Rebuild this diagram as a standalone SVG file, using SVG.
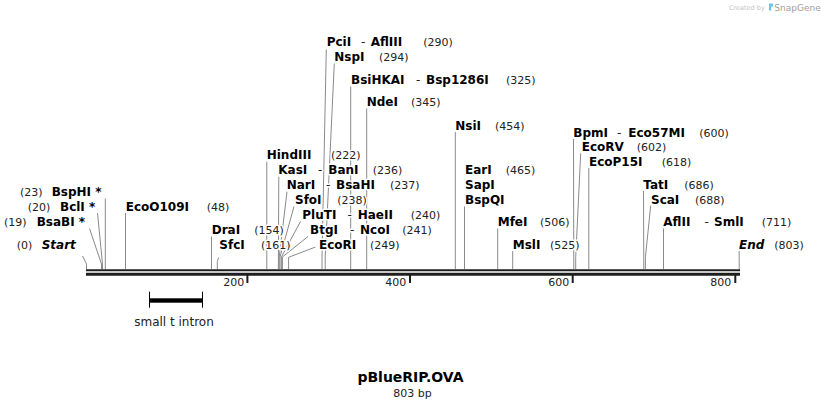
<svg xmlns="http://www.w3.org/2000/svg" width="826" height="408" viewBox="0 0 826 408">
<style>
text{font-family:"DejaVu Sans",Verdana,sans-serif;stroke:#fff;stroke-width:3;stroke-linejoin:round;paint-order:stroke}
.n{font-size:12px;font-weight:bold;fill:#000}
.i{font-size:12px;font-weight:bold;font-style:italic;fill:#000}
.p{font-size:11px;fill:#222}
.d{font-size:12px;fill:#222}
.t{font-size:11px;fill:#222;stroke:none}
.c{stroke:#8a8a8a;stroke-width:1;fill:none}
.bb{stroke:#1e1e1e;fill:none}
</style>
<rect width="826" height="408" fill="#fff"/>
<g id="credit">
<text x="729" y="9.5" style="font-size:6.5px;fill:#c4c4c4;stroke:none">Created by</text>
<path d="M769 3.5 L773 3.5 L773 6.5 L771.2 6.5 L771.2 10.5 L769 10.5 Z" fill="#6cc3ee"/>
<text x="774.3" y="10.5" style="font-size:9px;fill:#a0a0a0;stroke:none">SnapGene</text>
</g>
<g id="backbone">
<line class="bb" x1="86" y1="270.3" x2="740" y2="270.3" stroke-width="2"/>
<line class="bb" x1="86" y1="274.2" x2="740" y2="274.2" stroke-width="3"/>
<rect x="246.4" y="275" width="2" height="8" fill="#1e1e1e"/>
<rect x="409" y="275" width="2" height="8" fill="#1e1e1e"/>
<rect x="571.7" y="275" width="2" height="8" fill="#1e1e1e"/>
<rect x="734.3" y="275" width="2" height="8" fill="#1e1e1e"/>
<text class="t" x="244.3" y="286.3" text-anchor="end">200</text>
<text class="t" x="406.3" y="286.3" text-anchor="end">400</text>
<text class="t" x="569.3" y="286.3" text-anchor="end">600</text>
<text class="t" x="731.3" y="286.3" text-anchor="end">800</text>
</g>
<g id="connectors">
<polyline class="c" points="82.5,256 86.5,264 86.5,269"/>
<polyline class="c" points="89.5,228.5 101.5,264 101.5,269"/>
<polyline class="c" points="97.5,213 102.5,264 102.5,269"/>
<polyline class="c" points="105.3,198.5 105.3,269"/>
<polyline class="c" points="125.5,213 125.5,269"/>
<polyline class="c" points="211.5,236.5 211.5,269"/>
<polyline class="c" points="218.7,257.5 217.3,261.5 217.3,269"/>
<polyline class="c" points="266.8,161.7 266.8,269"/>
<polyline class="c" points="278.8,176.7 278.4,257 278.4,269"/>
<polyline class="c" points="287,191.7 279.2,257 279.2,269"/>
<polyline class="c" points="294,206.5 280,257 280,269"/>
<polyline class="c" points="300.5,221.5 281.4,257 281.4,269"/>
<polyline class="c" points="308,236.5 282.4,257 282.4,269"/>
<polyline class="c" points="315.5,247 288.6,257.3 288.6,269"/>
<polyline class="c" points="326.3,49.5 322,257 322,269"/>
<polyline class="c" points="334.3,63.5 325.2,257 325.2,269"/>
<polyline class="c" points="350.7,86.5 350.7,269"/>
<polyline class="c" points="366.7,108.5 366.7,269"/>
<polyline class="c" points="455.3,132 455.3,269"/>
<polyline class="c" points="464.5,206.5 464.5,269"/>
<polyline class="c" points="497.7,228.5 497.7,269"/>
<polyline class="c" points="512.7,251 512.7,269"/>
<polyline class="c" points="573.5,139 573.8,269"/>
<polyline class="c" points="580.7,153.3 575.7,257.5 575.7,269"/>
<polyline class="c" points="588.8,168 588.8,269"/>
<polyline class="c" points="643.5,191 643.8,269"/>
<polyline class="c" points="650.7,205.5 645.4,257.5 645.4,269"/>
<polyline class="c" points="663.5,228.5 663.5,269"/>
<polyline class="c" points="739.2,251 739.2,269"/>
</g>
<g id="Start"><text class="p" x="16.7" y="248.5">(0)</text><text class="i" x="41.7" y="248.5">Start</text></g>
<g id="BsaBI"><text class="p" x="4" y="226">(19)</text><text class="n" x="36.7" y="226">BsaBI *</text></g>
<g id="BclI"><text class="p" x="27.7" y="210.5">(20)</text><text class="n" x="60" y="210.5">BclI *</text></g>
<g id="BspHI"><text class="p" x="20" y="196">(23)</text><text class="n" x="51.7" y="196">BspHI *</text></g>
<g id="EcoO109I"><text class="n" x="125.7" y="210.5">EcoO109I</text><text class="p" x="206.7" y="210.5">(48)</text></g>
<g id="DraI"><text class="n" x="211.7" y="234">DraI</text><text class="p" x="254.3" y="234">(154)</text></g>
<g id="SfcI"><text class="n" x="219.3" y="249">SfcI</text><text class="p" x="261" y="249">(161)</text></g>
<g id="HindIII"><text class="n" x="266.7" y="159">HindIII</text><text class="p" x="331" y="159">(222)</text></g>
<g id="KasI"><text class="n" x="278.3" y="174">KasI</text><text class="d" x="318" y="174">-</text><text class="n" x="328.3" y="174">BanI</text><text class="p" x="372.7" y="174">(236)</text></g>
<g id="NarI"><text class="n" x="286.7" y="189">NarI</text><text class="d" x="326" y="189">-</text><text class="n" x="336" y="189">BsaHI</text><text class="p" x="390" y="189">(237)</text></g>
<g id="SfoI"><text class="n" x="295" y="204">SfoI</text><text class="p" x="337.3" y="204">(238)</text></g>
<g id="PluTI"><text class="n" x="302.3" y="219">PluTI</text><text class="d" x="347.5" y="219">-</text><text class="n" x="357.7" y="219">HaeII</text><text class="p" x="410.7" y="219">(240)</text></g>
<g id="BtgI"><text class="n" x="310" y="234">BtgI</text><text class="d" x="350" y="234">-</text><text class="n" x="360" y="234">NcoI</text><text class="p" x="402.3" y="234">(241)</text></g>
<g id="EcoRI"><text class="n" x="319" y="249">EcoRI</text><text class="p" x="370" y="249">(249)</text></g>
<g id="PciI"><text class="n" x="326.7" y="46">PciI</text><text class="d" x="361" y="46">-</text><text class="n" x="370.7" y="46">AflIII</text><text class="p" x="423.3" y="46">(290)</text></g>
<g id="NspI"><text class="n" x="334.3" y="61">NspI</text><text class="p" x="379" y="61">(294)</text></g>
<g id="BsiHKAI"><text class="n" x="351" y="84">BsiHKAI</text><text class="d" x="416" y="84">-</text><text class="n" x="426" y="84">Bsp1286I</text><text class="p" x="506" y="84">(325)</text></g>
<g id="NdeI"><text class="n" x="366.7" y="106">NdeI</text><text class="p" x="411" y="106">(345)</text></g>
<g id="NsiI"><text class="n" x="455.3" y="130">NsiI</text><text class="p" x="495" y="130">(454)</text></g>
<g id="EarI"><text class="n" x="465" y="174">EarI</text><text class="p" x="505.7" y="174">(465)</text><text class="n" x="465" y="189">SapI</text><text class="n" x="465" y="204">BspQI</text></g>
<g id="MfeI"><text class="n" x="497.7" y="226">MfeI</text><text class="p" x="540" y="226">(506)</text></g>
<g id="MslI"><text class="n" x="512.7" y="249">MslI</text><text class="p" x="550" y="249">(525)</text></g>
<g id="BpmI"><text class="n" x="573.3" y="136.5">BpmI</text><text class="d" x="617" y="136.5">-</text><text class="n" x="628.3" y="136.5">Eco57MI</text><text class="p" x="699.3" y="136.5">(600)</text></g>
<g id="EcoRV"><text class="n" x="581.7" y="151">EcoRV</text><text class="p" x="636.7" y="151">(602)</text></g>
<g id="EcoP15I"><text class="n" x="589" y="166">EcoP15I</text><text class="p" x="661.7" y="166">(618)</text></g>
<g id="TatI"><text class="n" x="643.3" y="189">TatI</text><text class="p" x="684.3" y="189">(686)</text></g>
<g id="ScaI"><text class="n" x="651" y="204">ScaI</text><text class="p" x="695" y="204">(688)</text></g>
<g id="AflII"><text class="n" x="663.3" y="226">AflII</text><text class="d" x="704.5" y="226">-</text><text class="n" x="714" y="226">SmlI</text><text class="p" x="761.7" y="226">(711)</text></g>
<g id="End"><text class="i" x="739" y="249">End</text><text class="p" x="774.3" y="249">(803)</text></g>
<g id="small_t_intron">
<rect x="149.5" y="298.3" width="53" height="4.4" fill="#000"/>
<line x1="149.5" y1="291.7" x2="149.5" y2="307.7" stroke="#000" stroke-width="1"/>
<line x1="202.5" y1="291.7" x2="202.5" y2="307.7" stroke="#000" stroke-width="1"/>
<text x="174" y="325.5" text-anchor="middle" style="font-size:12px;fill:#222;stroke:none">small t intron</text>
</g>
<g id="title">
<text x="410.5" y="382" text-anchor="middle" style="font-size:14px;font-weight:bold;fill:#000;stroke:none">pBlueRIP.OVA</text>
<text x="412.5" y="396.5" text-anchor="middle" style="font-size:11px;fill:#222;stroke:none">803 bp</text>
</g>
</svg>
